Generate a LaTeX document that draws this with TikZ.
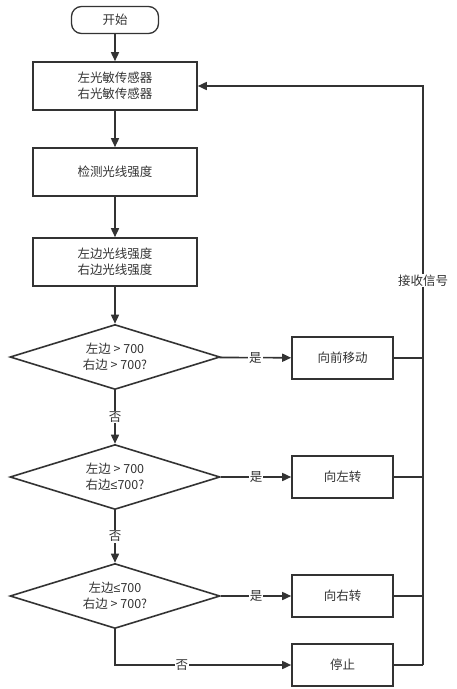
\documentclass[tikz,border=0pt]{standalone}
\usepackage{fontspec}
\setmainfont{Noto Sans CJK SC}
\newfontfamily\lsans{Liberation Sans}
\newcommand{\myle}{{\lsans ≤}}
\usetikzlibrary{arrows.meta,shapes.geometric}
\definecolor{ink}{HTML}{333333}
\begin{document}
\begin{tikzpicture}[x=1pt,y=-1pt,
  every node/.style={font=\fontsize{12.5}{16}\selectfont, text=ink},
  box/.style={draw=ink, line width=1.6pt, minimum width=164pt, minimum height=48pt, align=center, inner sep=0pt},
  rbox/.style={draw=ink, line width=1.6pt, minimum width=101pt, minimum height=42pt, align=center, inner sep=0pt},
  startbox/.style={draw=ink, line width=1.3pt, rounded corners=10pt, minimum width=87pt, minimum height=27pt, inner sep=0pt},
  dec/.style={draw=ink, line width=1.6pt, diamond, aspect=3.23, minimum width=210pt, minimum height=65pt, inner sep=0pt, align=center},
  conn/.style={draw=ink, line width=1.6pt, -{Triangle[length=9pt,width=8pt]}},
  line/.style={draw=ink, line width=1.6pt},
  lab/.style={fill=white, inner sep=1pt}
]
\useasboundingbox (0,0) rectangle (456,689);
\node[startbox] (start) at (115,20) {开始};
\node[box] (s1) at (115,86) {左光敏传感器\\右光敏传感器};
\node[box] (s2) at (115,172) {检测光线强度};
\node[box] (s3) at (115,262) {左边光线强度\\右边光线强度};
\node[dec] (d1) at (115,357) {左边 > 700\\右边 > 700?};
\node[dec] (d2) at (115,477) {左边 > 700\\右边\myle700?};
\node[dec] (d3) at (115,596) {左边\myle700\\右边 > 700?};
\node[rbox] (fwd) at (342.5,358) {向前移动};
\node[rbox] (lt) at (342.5,477) {向左转};
\node[rbox] (rt) at (342.5,596) {向右转};
\node[rbox] (stop) at (342.5,665) {停止};
\coordinate (top) at (423,86);
\coordinate (bot) at (423,665);

\draw[conn] (start) -- (s1);
\draw[conn] (s1) -- (s2);
\draw[conn] (s2) -- (s3);
\draw[conn] (s3) -- (d1);
\draw[conn] (d1) -- node[lab]{否} (d2);
\draw[conn] (d2) -- node[lab]{否} (d3);
\draw[conn] (d1) -- node[lab]{是} (fwd);
\draw[conn] (d2) -- node[lab]{是} (lt);
\draw[conn] (d3) -- node[lab]{是} (rt);
\draw[conn] (d3.south) |- node[lab, pos=0.69]{否} (stop);
\draw[line] (fwd.east) -- (fwd.east -| top);
\draw[line] (lt.east) -- (lt.east -| top);
\draw[line] (rt.east) -- (rt.east -| top);
\draw[line] (stop.east) -- (bot);
\draw[conn] (bot) -- node[lab, pos=0.664]{接收信号} (top) -- (s1.east);
\end{tikzpicture}
\end{document}
